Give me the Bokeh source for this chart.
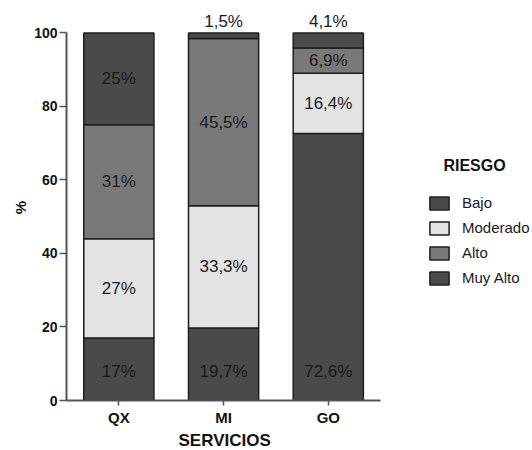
from bokeh.plotting import figure
from bokeh.models import ColumnDataSource, Legend, LegendItem, Label, Range1d, FixedTicker, Title
from bokeh.core.properties import value
from bokeh.embed import file_html
from bokeh.resources import INLINE

servicios = ["QX", "MI", "GO"]
riesgo = ["Bajo", "Moderado", "Alto", "Muy Alto"]
bajo = [17.0, 19.7, 72.6]
moderado = [27.0, 33.3, 16.4]
alto = [31.0, 45.5, 6.9]
muy_alto = [25.0, 1.5, 4.1]
y_ticks = [0, 20, 40, 60, 80, 100]

colors = ["#4a4a4a", "#e3e3e3", "#797979", "#4a4a4a"]
FONT = "Liberation Sans"

xpos = [i + 0.5 for i in range(len(servicios))]
data = {"x": xpos, "Bajo": bajo, "Moderado": moderado, "Alto": alto, "Muy Alto": muy_alto}
source = ColumnDataSource(data)

p = figure(width=532, height=450, output_backend="svg", toolbar_location=None,
           x_range=Range1d(0, 4.45), y_range=Range1d(0, 105),
           min_border_left=66, min_border_right=0, min_border_top=14, min_border_bottom=48)
p.outline_line_color = None
p.xgrid.grid_line_color = None
p.ygrid.grid_line_color = None

rends = p.vbar_stack(riesgo, x="x", width=0.67, color=colors, source=source,
                     line_color="#1e1e1e", line_width=1.5)

# labels
lx, ly, lt = [], [], []
tx, ty, tt = [], [], []
series = [bajo, moderado, alto, muy_alto]
BOTTOM_LABEL = 8.0
for i, xc in enumerate(xpos):
    cum = 0.0
    for k, vals in enumerate(series):
        v = vals[i]
        txt = f"{v:g}".replace(".", ",") + "%"
        if v < 5:
            tx.append(xc); ty.append(100.6); tt.append(txt)
        else:
            yc = cum + v / 2
            if k == 0:
                yc = min(yc, BOTTOM_LABEL)
            lx.append(xc); ly.append(yc); lt.append(txt)
        cum += v

p.text(x=lx, y=ly, text=lt, text_align="center", text_baseline="middle",
       text_font=value(FONT), text_font_size="17px", text_color="#1a1a1a")
p.text(x=tx, y=ty, text=tt, text_align="center", text_baseline="bottom",
       text_font=value(FONT), text_font_size="17px", text_color="#1a1a1a")

# axes
p.yaxis.ticker = y_ticks
p.yaxis.bounds = (0, 100)
p.xaxis.ticker = FixedTicker(ticks=xpos)
p.xaxis.major_label_overrides = {x: s for x, s in zip(xpos, servicios)}
p.xaxis.bounds = (0, len(servicios))
p.yaxis.axis_label = "%"
for ax in (p.xaxis, p.yaxis):
    ax.axis_line_color = "#555555"
    ax.axis_line_width = 2
    ax.major_tick_line_color = "#555555"
    ax.major_tick_line_width = 1.5
    ax.major_tick_in = 0
    ax.minor_tick_line_color = None
    ax.major_label_text_font = FONT
    ax.major_label_text_font_style = "bold"
    ax.major_label_text_color = "#111111"
    ax.axis_label_text_font = FONT
    ax.axis_label_text_font_style = "bold"
    ax.axis_label_text_color = "#111111"
p.xaxis.major_tick_out = 5
p.yaxis.major_tick_out = 7
p.xaxis.major_label_text_font_size = "15px"
p.yaxis.major_label_text_font_size = "14px"
p.yaxis.axis_label_text_font_size = "15px"
p.xaxis.major_label_standoff = 3
p.yaxis.major_label_standoff = 2
p.yaxis.axis_label_standoff = 2

xtitle = Title(text="SERVICIOS", align="left", offset=112, standoff=1,
               text_font=FONT, text_font_style="bold", text_font_size="17px",
               text_color="#111111")
p.add_layout(xtitle, "below")

legend = Legend(items=[LegendItem(label=r, renderers=[rend]) for r, rend in zip(riesgo, rends)],
                location=(361, 114), padding=0, margin=0, border_line_color=None,
                background_fill_alpha=0, glyph_width=24, glyph_height=16, label_height=16,
                spacing=8, label_standoff=11, label_text_font=FONT, label_text_font_size="15px",
                label_text_color="#1a1a1a")
p.add_layout(legend)

title = Label(x=408, y=235, x_units="screen", y_units="screen", text="RIESGO",
              text_font=FONT, text_font_style="bold", text_font_size="16px",
              text_align="center", text_baseline="middle", text_color="#111111")
p.add_layout(title)

open("out.html", "w").write(file_html(p, INLINE))
